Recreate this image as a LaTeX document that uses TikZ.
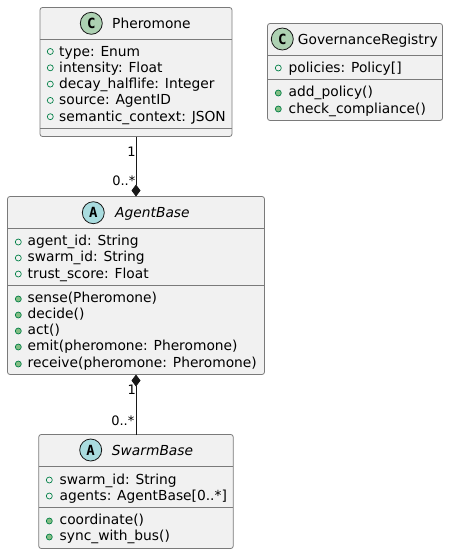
\documentclass[tikz,border=0pt]{standalone}
\usepackage{fontspec}
\setmainfont{DejaVu Sans}
\newfontfamily\spotfont{DejaVu Sans Mono}
\usetikzlibrary{arrows.meta}
\definecolor{boxfill}{HTML}{F1F1F1}
\definecolor{boxline}{HTML}{7A7A7A}
\definecolor{assocline}{HTML}{181818}
\definecolor{classspot}{HTML}{ADD1B2}
\definecolor{abstractspot}{HTML}{A9DCDF}
\definecolor{markline}{HTML}{038048}
\definecolor{markfill}{HTML}{84BE84}
\tikzset{
    umlbox/.style={draw=boxline, line width=0.8pt, fill=boxfill, rounded corners=2.5pt, inner sep=0pt, outer sep=0pt},
    divider/.style={draw=boxline, line width=0.8pt},
    spot/.style={circle, draw=assocline, line width=0.8pt, minimum size=22pt, inner sep=0pt, font=\spotfont\bfseries\fontsize{14}{14}\selectfont},
    title/.style={anchor=base west, inner sep=0pt, font=\fontsize{13.8}{16}\selectfont},
    member/.style={anchor=base west, inner sep=0pt, font=\fontsize{13.8}{16}\selectfont},
    fieldmark/.style={circle, draw=markline, line width=0.7pt, minimum size=6pt, inner sep=0pt},
    methodmark/.style={circle, draw=markline, fill=markfill, line width=0.7pt, minimum size=6pt, inner sep=0pt},
    multi/.style={anchor=base east, inner sep=0pt, font=\fontsize{13}{15}\selectfont},
    assoc/.style={draw=assocline, line width=0.8pt}
}
\begin{document}
\begin{tikzpicture}[x=1pt, y=-1pt]
    \useasboundingbox (0,0) rectangle (448,554);

    % boxes
    \node[umlbox, minimum width=192pt, minimum height=129pt] (pheromone) at (136,72) {};
    \node[umlbox, minimum width=257pt, minimum height=178pt] (agent) at (136,285.5) {};
    \node[umlbox, minimum width=194.5pt, minimum height=114pt] (swarm) at (136,491.5) {};
    \node[umlbox, minimum width=175pt, minimum height=97pt] (registry) at (355,72) {};

    \draw[divider] (pheromone.west |- 0,39.5) -- (pheromone.east |- 0,39.5);
    \draw[divider] (pheromone.west |- 0,128) -- (pheromone.east |- 0,128);
    \draw[divider] (agent.west |- 0,228) -- (agent.east |- 0,228);
    \draw[divider] (agent.west |- 0,285) -- (agent.east |- 0,285);
    \draw[divider] (swarm.west |- 0,466.5) -- (swarm.east |- 0,466.5);
    \draw[divider] (swarm.west |- 0,507) -- (swarm.east |- 0,507);
    \draw[divider] (registry.west |- 0,55) -- (registry.east |- 0,55);
    \draw[divider] (registry.west |- 0,79) -- (registry.east |- 0,79);

    % titles
    \node[spot, fill=classspot] (s1) at (91.3,23.3) {C};
    \node[title] (t1) at (112,28) {Pheromone};
    \node[spot, fill=abstractspot] (s2) at (93.3,212.7) {A};
    \node[title, font=\fontsize{13.8}{16}\selectfont\itshape] (t2) at (115,217) {AgentBase};
    \node[spot, fill=abstractspot] (s3) at (90.7,450) {A};
    \node[title, font=\fontsize{13.8}{16}\selectfont\itshape] (t3) at (111.7,455) {SwarmBase};
    \node[spot, fill=classspot] (s4) at (282.3,39) {C};
    \node[title] (t4) at (297.7,44) {GovernanceRegistry};

    % Pheromone
    \node[fieldmark] (p1m) at (50.3,51.5) {};
    \node[member] (p1) at (59,56) {type: Enum};
    \node[fieldmark] (p2m) at (50.3,67.8) {};
    \node[member] (p2) at (59,72.3) {intensity: Float};
    \node[fieldmark] (p3m) at (50.3,84.1) {};
    \node[member] (p3) at (59,88.6) {decay\_halflife: Integer};
    \node[fieldmark] (p4m) at (50.3,100.4) {};
    \node[member] (p4) at (59,104.9) {source: AgentID};
    \node[fieldmark] (p5m) at (50.3,116.7) {};
    \node[member] (p5) at (59,121.2) {semantic\_context: JSON};

    % AgentBase
    \node[fieldmark] (a1m) at (18.3,242) {};
    \node[member] (a1) at (27.5,245.5) {agent\_id: String};
    \node[fieldmark] (a2m) at (18.3,258) {};
    \node[member] (a2) at (27.5,261.8) {swarm\_id: String};
    \node[fieldmark] (a3m) at (18.3,274) {};
    \node[member] (a3) at (27.5,278) {trust\_score: Float};
    \node[methodmark] (a4m) at (18.3,299) {};
    \node[member] (a4) at (27.5,302) {sense(Pheromone)};
    \node[methodmark] (a5m) at (18.3,315) {};
    \node[member] (a5) at (27.5,318.3) {decide()};
    \node[methodmark] (a6m) at (18.3,331) {};
    \node[member] (a6) at (27.5,334.6) {act()};
    \node[methodmark] (a7m) at (18.3,347) {};
    \node[member] (a7) at (27.5,350.9) {emit(pheromone: Pheromone)};
    \node[methodmark] (a8m) at (18.3,364) {};
    \node[member] (a8) at (27.5,367.2) {receive(pheromone: Pheromone)};

    % SwarmBase
    \node[fieldmark] (w1m) at (49.3,480) {};
    \node[member] (w1) at (59.5,484) {swarm\_id: String};
    \node[fieldmark] (w2m) at (49.3,496) {};
    \node[member] (w2) at (59.5,500.3) {agents: AgentBase[0..*]};
    \node[methodmark] (w3m) at (49.3,521) {};
    \node[member] (w3) at (59.5,524) {coordinate()};
    \node[methodmark] (w4m) at (49.3,537) {};
    \node[member] (w4) at (59.5,540.3) {sync\_with\_bus()};

    % GovernanceRegistry
    \node[fieldmark] (r1m) at (278.3,68) {};
    \node[member] (r1) at (288.5,72) {policies: Policy[]};
    \node[methodmark] (r2m) at (278.3,93) {};
    \node[member] (r2) at (288.5,96.7) {add\_policy()};
    \node[methodmark] (r3m) at (278.3,109) {};
    \node[member] (r3) at (288.5,113) {check\_compliance()};

    % associations
    \draw[assoc, -{Diamond[length=12pt, width=9pt]}] (pheromone) -- (agent);
    \draw[assoc, {Diamond[length=12pt, width=9pt]}-] (agent) -- (swarm);
    \node[multi] (m1) at (135.8,156) {1};
    \node[multi] (m2) at (135.5,185) {0..*};
    \node[multi] (m3) at (136,394.5) {1};
    \node[multi] (m4) at (134.5,425) {0..*};
\end{tikzpicture}
\end{document}
